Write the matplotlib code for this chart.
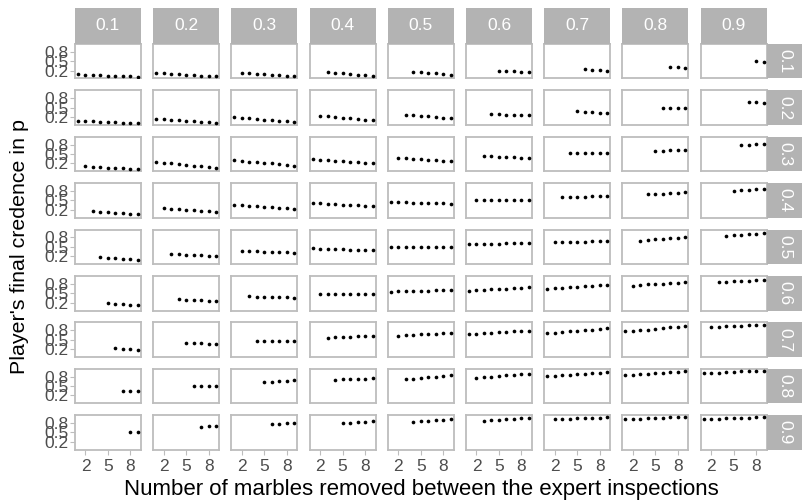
import numpy as np
import matplotlib
matplotlib.use("Agg")
import matplotlib.pyplot as plt

plt.rcParams["font.family"] = ["Liberation Sans", "DejaVu Sans"]

# facet levels (columns and rows) and the marble counts on the x axis
col_levels = ["0.1", "0.2", "0.3", "0.4", "0.5", "0.6", "0.7", "0.8", "0.9"]
row_levels = ["0.1", "0.2", "0.3", "0.4", "0.5", "0.6", "0.7", "0.8", "0.9"]
marbles = [1, 2, 3, 4, 5, 6, 7, 8, 9]

# final credence per panel; each inner list ends at 9 marbles removed
row_01 = [
    [0.09, 0.07, 0.06, 0.05, 0.04, 0.03, 0.02, 0.02, 0.01],
    [0.12, 0.11, 0.09, 0.08, 0.07, 0.05, 0.04, 0.03, 0.02],
    [0.13, 0.11, 0.10, 0.08, 0.07, 0.05, 0.04, 0.03],
    [0.15, 0.13, 0.11, 0.09, 0.07, 0.06, 0.04],
    [0.17, 0.15, 0.13, 0.11, 0.09, 0.07],
    [0.20, 0.19, 0.18, 0.16, 0.15],
    [0.24, 0.22, 0.21, 0.19],
    [0.33, 0.31, 0.30],
    [0.50, 0.49],
]
row_02 = [
    [0.09, 0.08, 0.07, 0.05, 0.04, 0.03, 0.02, 0.01, 0.01],
    [0.14, 0.13, 0.11, 0.10, 0.08, 0.07, 0.05, 0.04, 0.02],
    [0.19, 0.18, 0.16, 0.14, 0.12, 0.11, 0.09, 0.07, 0.05],
    [0.24, 0.22, 0.20, 0.18, 0.16, 0.14, 0.12, 0.11],
    [0.28, 0.26, 0.24, 0.22, 0.20, 0.18, 0.16],
    [0.30, 0.29, 0.28, 0.27, 0.26, 0.25],
    [0.38, 0.36, 0.35, 0.34, 0.32],
    [0.49, 0.49, 0.49, 0.49],
    [0.67, 0.67, 0.66],
]
row_03 = [
    [0.11, 0.10, 0.08, 0.07, 0.06, 0.04, 0.03, 0.02],
    [0.24, 0.22, 0.20, 0.18, 0.16, 0.13, 0.11, 0.09, 0.07],
    [0.30, 0.28, 0.26, 0.24, 0.22, 0.20, 0.18, 0.15, 0.13],
    [0.33, 0.32, 0.30, 0.29, 0.27, 0.26, 0.24, 0.23, 0.21],
    [0.37, 0.36, 0.35, 0.33, 0.32, 0.31, 0.29, 0.28],
    [0.44, 0.43, 0.42, 0.41, 0.39, 0.38, 0.37],
    [0.53, 0.53, 0.53, 0.53, 0.53, 0.53],
    [0.60, 0.61, 0.62, 0.63, 0.64],
    [0.78, 0.80, 0.81, 0.83],
]
row_04 = [
    [0.15, 0.14, 0.12, 0.11, 0.10, 0.08, 0.07],
    [0.26, 0.24, 0.22, 0.21, 0.19, 0.17, 0.16, 0.14],
    [0.35, 0.34, 0.32, 0.31, 0.29, 0.28, 0.26, 0.25, 0.23],
    [0.42, 0.41, 0.40, 0.38, 0.37, 0.36, 0.34, 0.33, 0.31],
    [0.45, 0.44, 0.44, 0.43, 0.43, 0.42, 0.41, 0.41, 0.40],
    [0.52, 0.52, 0.52, 0.52, 0.52, 0.52, 0.52, 0.52],
    [0.60, 0.61, 0.61, 0.62, 0.63, 0.63, 0.64],
    [0.69, 0.70, 0.72, 0.73, 0.75, 0.76],
    [0.81, 0.83, 0.84, 0.86, 0.87],
]
row_05 = [
    [0.17, 0.15, 0.13, 0.12, 0.10, 0.08],
    [0.28, 0.27, 0.25, 0.24, 0.23, 0.21, 0.20],
    [0.38, 0.37, 0.36, 0.35, 0.34, 0.33, 0.32, 0.31],
    [0.45, 0.44, 0.43, 0.43, 0.42, 0.41, 0.41, 0.40, 0.39],
    [0.51, 0.51, 0.51, 0.51, 0.51, 0.51, 0.51, 0.51, 0.51],
    [0.59, 0.59, 0.60, 0.60, 0.60, 0.61, 0.61, 0.61, 0.62],
    [0.64, 0.65, 0.66, 0.66, 0.67, 0.68, 0.68, 0.69],
    [0.70, 0.72, 0.74, 0.76, 0.77, 0.79, 0.81],
    [0.85, 0.87, 0.88, 0.90, 0.91, 0.93],
]
row_06 = [
    [0.19, 0.17, 0.16, 0.14, 0.13],
    [0.31, 0.30, 0.28, 0.27, 0.25, 0.24],
    [0.40, 0.39, 0.39, 0.38, 0.37, 0.37, 0.36],
    [0.48, 0.48, 0.48, 0.48, 0.48, 0.48, 0.48, 0.48],
    [0.55, 0.56, 0.56, 0.57, 0.57, 0.58, 0.59, 0.59, 0.60],
    [0.58, 0.59, 0.60, 0.62, 0.63, 0.64, 0.66, 0.67, 0.69],
    [0.65, 0.66, 0.68, 0.69, 0.71, 0.72, 0.74, 0.75, 0.77],
    [0.74, 0.76, 0.78, 0.79, 0.81, 0.83, 0.84, 0.86],
    [0.85, 0.86, 0.88, 0.89, 0.90, 0.92, 0.93],
]
row_07 = [
    [0.22, 0.20, 0.19, 0.17],
    [0.40, 0.39, 0.38, 0.37, 0.36],
    [0.47, 0.47, 0.47, 0.47, 0.47, 0.47],
    [0.56, 0.57, 0.58, 0.59, 0.61, 0.62, 0.63],
    [0.63, 0.64, 0.65, 0.67, 0.68, 0.69, 0.71, 0.72],
    [0.67, 0.68, 0.70, 0.71, 0.73, 0.74, 0.76, 0.77, 0.79],
    [0.70, 0.72, 0.74, 0.76, 0.78, 0.80, 0.82, 0.85, 0.87],
    [0.76, 0.78, 0.80, 0.82, 0.84, 0.87, 0.89, 0.91, 0.93],
    [0.89, 0.90, 0.92, 0.93, 0.94, 0.96, 0.97, 0.98],
]
row_08 = [
    [0.33, 0.33, 0.34],
    [0.51, 0.51, 0.51, 0.51],
    [0.62, 0.64, 0.65, 0.66, 0.68],
    [0.70, 0.71, 0.72, 0.73, 0.74, 0.75],
    [0.72, 0.74, 0.76, 0.78, 0.80, 0.82, 0.84],
    [0.76, 0.78, 0.80, 0.82, 0.84, 0.86, 0.88, 0.89],
    [0.81, 0.82, 0.84, 0.86, 0.88, 0.89, 0.91, 0.93, 0.95],
    [0.84, 0.86, 0.88, 0.90, 0.91, 0.93, 0.95, 0.96, 0.98],
    [0.91, 0.92, 0.93, 0.95, 0.96, 0.97, 0.98, 0.99, 0.99],
]
row_09 = [
    [0.50, 0.51],
    [0.67, 0.69, 0.70],
    [0.76, 0.78, 0.79, 0.81],
    [0.80, 0.81, 0.82, 0.84, 0.85],
    [0.83, 0.85, 0.87, 0.89, 0.91, 0.93],
    [0.87, 0.89, 0.90, 0.92, 0.93, 0.95, 0.96],
    [0.92, 0.93, 0.94, 0.95, 0.96, 0.97, 0.97, 0.98],
    [0.92, 0.93, 0.94, 0.95, 0.96, 0.97, 0.98, 0.99, 0.99],
    [0.92, 0.93, 0.94, 0.95, 0.96, 0.97, 0.97, 0.98, 0.98],
]
grid = [row_01, row_02, row_03, row_04, row_05, row_06, row_07, row_08, row_09]

W, H = 803, 503
STRIP = "#B3B3B3"
BORDER = "#BDBDBD"
TICK_TEXT = "#4D4D4D"


def rect(x, y, w, h):
    # pixel box (top-left origin) -> figure fraction
    return [x / W, 1 - (y + h) / H, w / W, h / H]


fig = plt.figure(figsize=(W / 100, H / 100), dpi=100)

left0, top0 = 75.0, 44.0
col_step, row_step = 78.2, 46.4
pw, ph = 66.0, 34.5

for i, row_vals in enumerate(grid):
    for j, vals in enumerate(row_vals):
        x0 = left0 + j * col_step
        y0 = top0 + i * row_step
        ax = fig.add_axes(rect(x0, y0, pw, ph))
        xs = marbles[len(marbles) - len(vals):]
        ax.scatter(xs, vals, s=7, color="black", linewidths=0, zorder=3)
        ax.set_xlim(0.6, 9.4)
        ax.set_ylim(-0.05, 1.05)
        for sp in ax.spines.values():
            sp.set_color(BORDER)
            sp.set_linewidth(1.3)
        ax.tick_params(colors=BORDER, labelcolor=TICK_TEXT, length=3.5,
                       width=0.8, labelsize=12.5, pad=1.2)
        ax.set_xticks([2, 5, 8])
        ax.set_yticks([0.2, 0.5, 0.8])
        if i == len(grid) - 1:
            ax.set_xticklabels(["2", "5", "8"])
            ax.tick_params(axis="x", pad=3)
        else:
            ax.tick_params(axis="x", length=0, labelbottom=False)
        if j == 0:
            ax.set_yticklabels(["0.2", "0.5", "0.8"])
        else:
            ax.tick_params(axis="y", length=0, labelleft=False)

# column strips along the top
for j, lab in enumerate(col_levels):
    sax = fig.add_axes(rect(left0 + j * col_step, 8, pw, top0 - 8))
    sax.set_facecolor(STRIP)
    sax.set_xticks([])
    sax.set_yticks([])
    for sp in sax.spines.values():
        sp.set_visible(False)
    sax.text(0.5, 0.5, lab, color="white", fontsize=12.5,
             ha="center", va="center", transform=sax.transAxes)

# row strips on the right
strip_x = left0 + 8 * col_step + pw
for i, lab in enumerate(row_levels):
    sax = fig.add_axes(rect(strip_x, top0 + i * row_step, W - strip_x, ph))
    sax.set_facecolor(STRIP)
    sax.set_xticks([])
    sax.set_yticks([])
    for sp in sax.spines.values():
        sp.set_visible(False)
    sax.text(0.5, 0.5, lab, color="white", fontsize=12.5, rotation=-90,
             ha="center", va="center", transform=sax.transAxes)

fig.text(20 / W, 1 - 246 / H, "Player's final credence in p", rotation=90,
         ha="center", va="center", fontsize=15.4)
fig.text(421 / W, 1 - 490 / H,
         "Number of marbles removed between the expert inspections",
         ha="center", va="center", fontsize=16)

fig.savefig("out.png", dpi=100)
